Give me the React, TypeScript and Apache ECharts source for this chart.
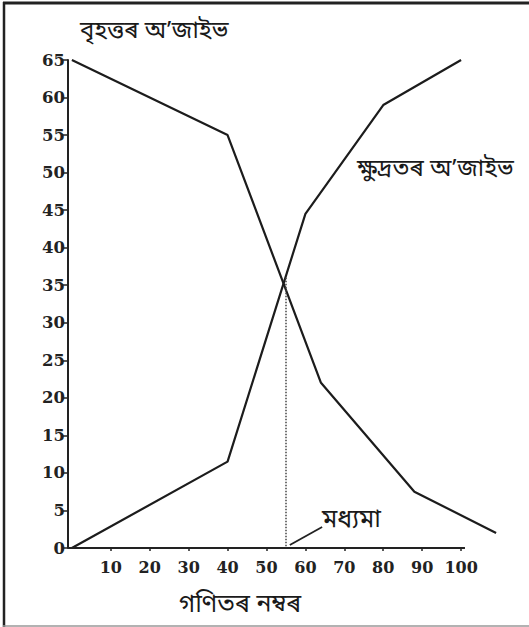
import React, { useEffect, useRef } from "react";
import * as echarts from "echarts";

// Less-than ogive (ক্ষুদ্রতৰ অ'জাইভ)
const lessX = [0, 40, 60, 80, 100];
const lessY = [0, 11.5, 44.5, 59, 65];
// More-than ogive (বৃহত্তৰ অ'জাইভ)
const moreX = [0, 40, 64, 88, 109];
const moreY = [65, 55, 22, 7.5, 2];
// Median
const medianX = 55;
const medianY = 36;
// Axis ticks
const xTickValues = [10, 20, 30, 40, 50, 60, 70, 80, 90, 100];
const yTickInterval = 5;
const yMax = 65;

const titleMore = "বৃহত্তৰ অ’জাইভ";
const titleLess = "ক্ষুদ্ৰতৰ অ’জাইভ";
const xTitle = "গণিতৰ নম্বৰ";
const medianLabel = "মধ্যমা";

const bnFont = "'Noto Sans Bengali', 'Noto Serif Bengali', 'Lohit Assamese', 'Lohit Bengali', FreeSerif, serif";
const numFont = "'DejaVu Serif', 'Liberation Serif', serif";

export default function App() {
  const ref = useRef<HTMLDivElement>(null);
  useEffect(() => {
    document.body.style.margin = "0";
    if (!ref.current) return;
    const chart = echarts.init(ref.current, undefined, { renderer: "svg" });
    const lineColor = "#1c1c1c";
    const txt = (text: string, x: number, y: number, size: number) => ({
      type: "text",
      x,
      y,
      style: { text, font: `${size}px ${bnFont}`, fill: "#1a1a1a", align: "left", verticalAlign: "middle" },
    });
    chart.setOption({
      animation: false,
      backgroundColor: "#ffffff",
      grid: { left: 68, right: 29, top: 60, bottom: 79, containLabel: false },
      xAxis: {
        type: "value",
        min: -1,
        max: 110,
        splitLine: { show: false },
        axisLine: { show: false },
        axisTick: {
          show: true,
          customValues: xTickValues,
          length: 3,
          lineStyle: { color: "#222", width: 1.5 },
        },
        axisLabel: {
          customValues: xTickValues,
          margin: 11,
          color: "#222",
          fontFamily: numFont,
          fontSize: 16,
          fontWeight: "bold",
        },
      },
      yAxis: {
        type: "value",
        min: 0,
        max: yMax,
        interval: yTickInterval,
        splitLine: { show: false },
        axisLine: { show: true, onZero: false, lineStyle: { color: "#222", width: 2 } },
        axisTick: { show: true, length: 6, lineStyle: { color: "#222", width: 1.5 } },
        axisLabel: {
          margin: 3,
          color: "#222",
          fontFamily: numFont,
          fontSize: 16.5,
          fontWeight: "bold",
        },
      },
      series: [
        {
          type: "line",
          data: lessX.map((x, i) => [x, lessY[i]]),
          symbol: "none",
          lineStyle: { color: lineColor, width: 2.2 },
          markLine: {
            silent: true,
            symbol: "none",
            label: { show: false },
            data: [
              [
                { coord: [-1, 0], lineStyle: { type: "solid", color: "#222", width: 2 } },
                { coord: [101, 0] },
              ],
              [
                { coord: [medianX, medianY], lineStyle: { type: "dotted", color: "#444", width: 1.5 } },
                { coord: [medianX, 0] },
              ],
              [
                { coord: [56, 0.4], lineStyle: { type: "solid", color: "#222", width: 1.8 } },
                { coord: [64.3, 2.8] },
              ],
            ],
          },
        },
        {
          type: "line",
          data: moreX.map((x, i) => [x, moreY[i]]),
          symbol: "none",
          lineStyle: { color: lineColor, width: 2.2 },
        },
      ],
      graphic: [
        { type: "line", shape: { x1: 3, y1: 3, x2: 529, y2: 3 }, style: { stroke: "#222", lineWidth: 3 } },
        { type: "line", shape: { x1: 4, y1: 2, x2: 4, y2: 627 }, style: { stroke: "#222", lineWidth: 2.5 } },
        { type: "line", shape: { x1: 3, y1: 626, x2: 529, y2: 626 }, style: { stroke: "#999", lineWidth: 1.5 } },
        txt(titleMore, 80, 32, 24),
        txt(titleLess, 357, 170, 24),
        txt(xTitle, 179, 605, 25),
        txt(medianLabel, 322, 520, 25),
      ],
    });
    return () => chart.dispose();
  }, []);
  return <div ref={ref} style={{ width: 529, height: 627 }} />;
}
